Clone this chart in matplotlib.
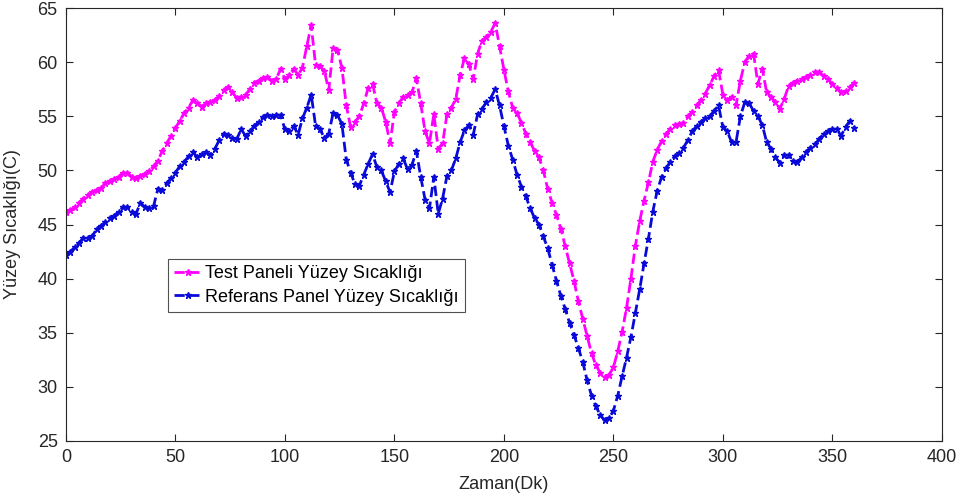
import matplotlib
matplotlib.use("Agg")
import matplotlib.pyplot as plt

minutes = list(range(0, 361, 2))

test_panel = [
    46.2, 46.3, 46.6, 47.0, 47.4, 47.7, 48.0, 48.2, 48.4, 48.8,
    49.0, 49.2, 49.4, 49.8, 49.8, 49.4, 49.3, 49.5, 49.7, 49.9,
    50.4, 50.9, 51.8, 52.5, 53.2, 53.9, 54.6, 55.3, 55.8, 56.5,
    56.2, 55.9, 56.2, 56.3, 56.5, 56.9, 57.4, 57.7, 57.2, 56.7,
    56.8, 57.0, 57.5, 58.1, 58.3, 58.5, 58.6, 58.3, 58.4, 59.4,
    58.4, 58.8, 59.4, 58.8, 59.5, 61.5, 63.4, 59.7, 59.6, 59.2,
    57.4, 61.3, 61.1, 59.5, 56.0, 54.0, 54.5, 55.0, 56.2, 57.6,
    58.0, 56.2, 55.8, 54.5, 52.5, 55.4, 56.2, 56.8, 57.0, 57.2,
    58.5, 56.2, 53.6, 52.5, 55.2, 52.0, 52.5, 55.2, 55.8, 56.6,
    58.8, 60.4, 59.8, 58.4, 60.8, 62.0, 62.3, 62.8, 63.6, 61.5,
    59.3, 57.3, 55.8, 55.3, 54.4, 53.4, 52.6, 51.8, 51.2, 50.0,
    48.3, 47.0, 45.9, 44.6, 43.0, 41.4, 39.8, 37.9, 36.3, 34.7,
    33.1, 32.0, 31.3, 30.9, 31.1, 31.8, 33.3, 35.1, 37.3, 40.0,
    43.0, 45.3, 47.2, 48.9, 50.8, 51.9, 52.7, 53.4, 53.8, 54.2,
    54.3, 54.4, 55.0, 55.4, 56.0, 56.5, 57.1, 57.9, 58.7, 59.3,
    57.0, 56.5, 56.8, 56.0, 58.3, 60.0, 60.6, 60.8, 58.0, 59.4,
    57.2, 56.8, 56.3, 55.7, 56.6, 57.8, 58.1, 58.3, 58.4, 58.6,
    58.8, 59.1, 59.1, 58.7, 58.4, 58.0, 57.6, 57.2, 57.3, 57.7,
    58.1,
]

reference_panel = [
    42.2, 42.5, 42.9, 43.3, 43.8, 43.8, 43.9, 44.6, 44.9, 45.2,
    45.6, 45.8, 46.2, 46.6, 46.6, 46.2, 46.0, 47.0, 46.6, 46.5,
    46.7, 48.3, 48.2, 48.8, 49.3, 49.8, 50.4, 50.8, 51.3, 51.7,
    51.2, 51.5, 51.7, 51.4, 52.0, 52.8, 53.4, 53.3, 53.0, 52.9,
    53.8, 53.2, 53.6, 54.1, 54.5, 54.9, 55.1, 55.0, 55.1, 55.1,
    53.8, 53.6, 54.1, 53.3, 54.8, 55.8, 57.0, 54.1, 53.8, 53.0,
    53.4, 55.3, 55.1, 54.3, 51.0, 49.8, 48.7, 48.6, 49.6, 50.6,
    51.5, 50.3, 50.0, 49.0, 48.0, 49.9, 50.6, 51.1, 50.1, 50.5,
    51.8, 49.4, 47.3, 46.5, 49.4, 46.0, 47.4, 49.5, 50.0, 51.1,
    52.6, 53.7, 54.2, 53.3, 55.2, 55.7, 56.3, 56.7, 57.5, 56.0,
    54.1, 52.3, 51.0, 49.6, 48.5, 47.6, 46.5, 45.6, 45.0, 43.9,
    42.8, 41.3, 39.8, 38.4, 37.2, 35.9, 34.8, 33.6, 32.3, 30.6,
    29.2, 28.2, 27.4, 26.9, 27.1, 27.8, 29.2, 31.0, 32.7, 34.6,
    36.8, 39.0, 41.4, 43.7, 46.2, 48.1, 49.4, 50.2, 50.8, 51.3,
    51.6, 52.1, 52.8, 53.6, 54.1, 54.5, 54.8, 55.0, 55.5, 56.0,
    54.0, 53.6, 52.6, 52.6, 55.0, 56.3, 56.2, 55.5, 55.0, 54.2,
    52.6, 52.0, 51.2, 50.7, 51.4, 51.4, 50.9, 50.8, 51.2, 51.7,
    52.1, 52.4, 52.9, 53.4, 53.6, 53.8, 53.8, 53.2, 54.0, 54.6,
    53.9,
]

x_ticks = [0, 50, 100, 150, 200, 250, 300, 350, 400]
y_ticks = [25, 30, 35, 40, 45, 50, 55, 60, 65]

plt.rcParams['font.family'] = ['Liberation Sans', 'DejaVu Sans']

fig = plt.figure(figsize=(9.66, 5.03), dpi=100)
ax = fig.add_axes([0.0683, 0.1233, 0.9067, 0.8607])

ax.plot(minutes, test_panel, linestyle='--', marker='*', markersize=5,
        linewidth=2.0, color='#ff00ff', label='Test Paneli Yüzey Sıcaklığı')
ax.plot(minutes, reference_panel, linestyle='--', marker='*', markersize=5,
        linewidth=2.0, color='#0a0ad8', label='Referans Panel Yüzey Sıcaklığı')

ax.set_xlim(0, 400)
ax.set_ylim(25, 65)
ax.set_xticks(x_ticks)
ax.set_yticks(y_ticks)
ax.tick_params(direction='in', top=True, right=True, length=5, width=0.8,
               labelsize=13, colors='#262626', pad=6)
for s in ax.spines.values():
    s.set_color('#262626')
    s.set_linewidth(0.8)

ax.set_xlabel('Zaman(Dk)', fontsize=13, color='#262626', labelpad=7)
ax.set_ylabel('Yüzey Sıcaklığı(C)', fontsize=13, color='#262626', labelpad=12)

leg = ax.legend(loc='lower left', bbox_to_anchor=(0.116, 0.298), fontsize=13,
                frameon=True, fancybox=False, handlelength=1.6, handletextpad=0.1,
                borderpad=0.35, labelspacing=0.35, borderaxespad=0)
leg.get_frame().set_edgecolor('#262626')
leg.get_frame().set_linewidth(0.8)

fig.savefig('out.png', dpi=100)
